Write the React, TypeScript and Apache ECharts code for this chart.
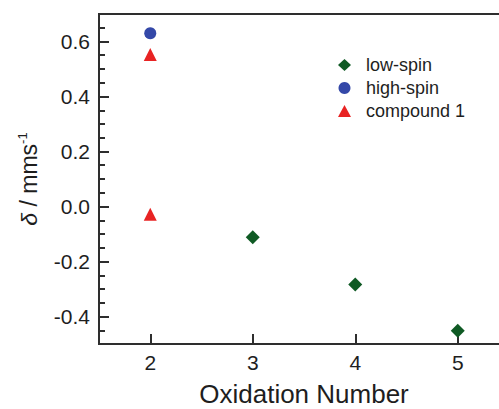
import React, { useEffect, useRef } from "react";
import * as echarts from "echarts";

const xTicks = [2, 3, 4, 5];
const yTicks = [-0.4, -0.2, 0.0, 0.2, 0.4, 0.6];
const lowSpin: [number, number][] = [
  [3, -0.112],
  [4, -0.284],
  [5, -0.452],
];
const highSpin: [number, number][] = [[2, 0.63]];
const compound1: [number, number][] = [
  [2, 0.553],
  [2, -0.028],
];

const FONT = "'Liberation Sans', Arial, Helvetica, sans-serif";
const INK = "#1e1e1e";
const AXIS = "#2e2e2e";

export default function App() {
  const ref = useRef<HTMLDivElement>(null);
  useEffect(() => {
    if (!ref.current) return;
    const chart = echarts.init(ref.current, undefined, { renderer: "svg" });
    chart.setOption({
      animation: false,
      backgroundColor: "#fff",
      textStyle: { fontFamily: FONT },
      grid: {
        left: 99,
        top: 14,
        right: 21,
        bottom: 65,
        show: true,
        containLabel: false,
        outerBoundsMode: "none",
        borderColor: AXIS,
        borderWidth: 2,
        backgroundColor: "transparent",
      },
      legend: {
        left: 333,
        top: 51,
        orient: "vertical",
        itemWidth: 13,
        itemHeight: 12,
        itemGap: 5,
        textStyle: { fontSize: 18, color: INK, fontFamily: FONT, padding: [0, 0, 0, 10] },
        data: ["low-spin", "high-spin", "compound 1"],
      },
      xAxis: {
        type: "value",
        min: 1.5,
        max: 5.5,
        name: "Oxidation Number",
        nameLocation: "middle",
        nameGap: 36,
        nameTextStyle: { fontSize: 26, lineHeight: 28, color: INK, fontFamily: FONT },
        axisLine: { show: true, onZero: false, lineStyle: { color: AXIS, width: 2 } },
        axisTick: { show: true, inside: true, length: 10, customValues: xTicks, lineStyle: { color: AXIS, width: 2 } },
        axisLabel: { show: true, customValues: xTicks, fontSize: 21, color: INK, margin: 8, fontFamily: FONT },
        splitLine: { show: false },
      },
      yAxis: [
        {
          type: "value",
          min: -0.5,
          max: 0.7,
          name: "{i|δ} / mms{sup|-1}",
          nameLocation: "middle",
          nameRotate: 90,
          nameGap: 58,
          nameTextStyle: {
            fontSize: 23,
            color: INK,
            fontFamily: FONT,
            rich: {
              i: { fontSize: 23, fontStyle: "italic", color: INK, fontFamily: FONT },
              sup: { fontSize: 13, color: INK, fontFamily: FONT, verticalAlign: "top", padding: [0, 0, 12, 0] },
            },
          },
          axisLine: { show: true, onZero: false, lineStyle: { color: AXIS, width: 2 } },
          axisTick: { show: true, inside: true, length: 10, customValues: yTicks, lineStyle: { color: AXIS, width: 2 } },
          axisLabel: {
            show: true,
            customValues: yTicks,
            fontSize: 21,
            color: INK,
            margin: 9,
            fontFamily: FONT,
            formatter: (v: number) => v.toFixed(1),
          },
          splitLine: { show: false },
        },
        {
          type: "value",
          min: -0.5,
          max: 0.7,
          interval: 0.05,
          position: "left",
          axisLine: { show: false },
          axisTick: { show: true, inside: true, length: 6, lineStyle: { color: AXIS, width: 2 } },
          axisLabel: { show: false },
          splitLine: { show: false },
        },
      ],
      series: [
        {
          name: "low-spin",
          type: "scatter",
          data: lowSpin,
          symbol: "diamond",
          symbolSize: 14,
          itemStyle: { color: "#0f5a24", opacity: 1 },
          z: 5,
        },
        {
          name: "high-spin",
          type: "scatter",
          data: highSpin,
          symbol: "circle",
          symbolSize: 12,
          itemStyle: { color: "#3448a8", opacity: 1 },
          z: 5,
        },
        {
          name: "compound 1",
          type: "scatter",
          data: compound1,
          symbol: "triangle",
          symbolSize: 13,
          itemStyle: { color: "#e82323", opacity: 1 },
          z: 5,
        },
      ],
    });
    return () => chart.dispose();
  }, []);
  return (
    <div style={{ position: "absolute", left: 0, top: 0, width: 499, height: 409, overflow: "hidden", background: "#fff" }}>
      <div ref={ref} style={{ width: 530, height: 409 }} />
    </div>
  );
}
